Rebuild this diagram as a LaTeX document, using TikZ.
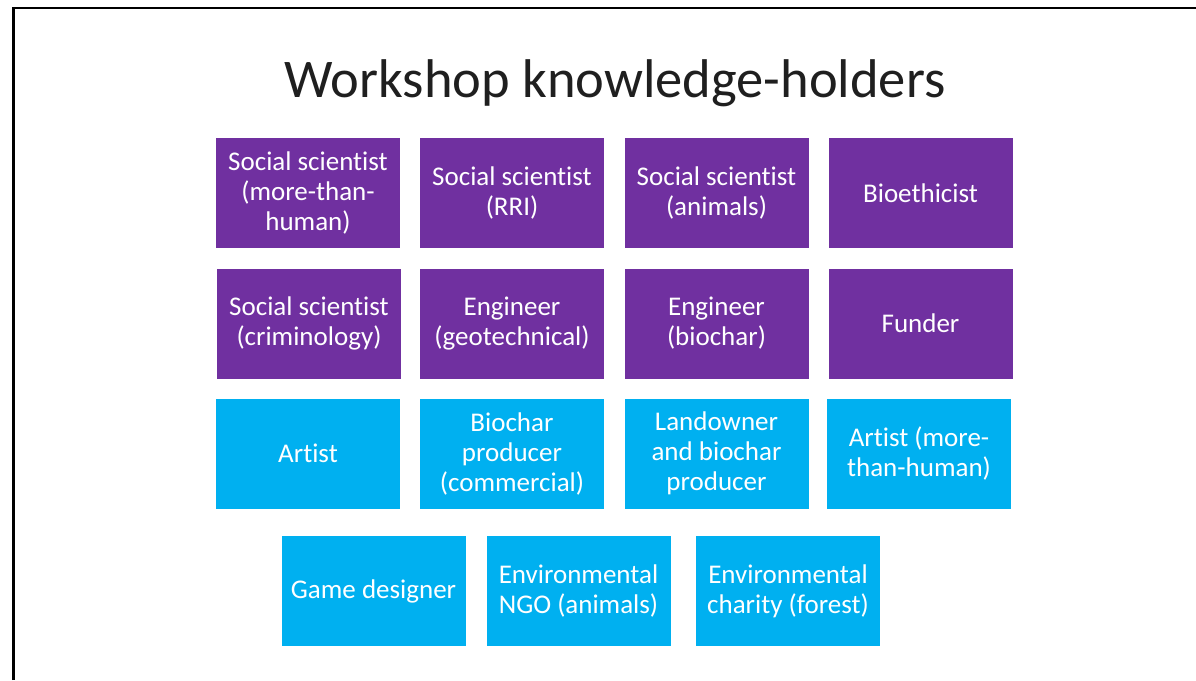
\documentclass[tikz,border=0pt]{standalone}
\usepackage{fontspec}
\setmainfont{Carlito}[Ligatures={NoCommon}]
\definecolor{holderpurple}{HTML}{7030A0}
\definecolor{holderblue}{HTML}{00B0F0}
\tikzset{
  holder/.style={minimum width=184pt, minimum height=110pt, inner sep=0pt,
    align=center, text=white, font=\fontsize{27}{30}\selectfont},
  acad/.style={holder, fill=holderpurple},
  prac/.style={holder, fill=holderblue},
}
\begin{document}
\begin{tikzpicture}[x=1pt,y=1pt]
\useasboundingbox (0,0) rectangle (1196,-680);
\fill[white] (0,0) rectangle (1196,-680);
% frame: left and top edges
\draw[line width=2.5pt] (13.5,-680) -- (13.5,-8) -- (1196,-8);
% title
\node[anchor=base, font=\fontsize{54.5}{60}\selectfont, text=black!88] (title) at (615,-97) {Workshop knowledge-holders};
% row 1
\node[acad] (a1) at (308,-193) {Social scientist\\(more-than-\\human)};
\node[acad] (a2) at (512,-193) {Social scientist\\(RRI)};
\node[acad] (a3) at (716.5,-193) {Social scientist\\(animals)};
\node[acad] (a4) at (920.5,-193) {Bioethicist};
% row 2
\node[acad] (b1) at (309,-323.5) {Social scientist\\(criminology)};
\node[acad] (b2) at (512,-323.5) {Engineer\\(geotechnical)};
\node[acad] (b3) at (716.5,-323.5) {Engineer\\(biochar)};
\node[acad] (b4) at (920.5,-323.5) {Funder};
% row 3
\node[prac] (c1) at (308,-453.5) {Artist};
\node[prac] (c2) at (512,-453.5) {Biochar\\producer\\(commercial)};
\node[prac] (c3) at (716.5,-453.5) {Landowner\\and biochar\\producer};
\node[prac] (c4) at (919,-453.5) {Artist (more-\\than-human)};
% row 4
\node[prac] (d1) at (373.5,-591) {Game designer};
\node[prac] (d2) at (578.5,-591) {Environmental\\NGO (animals)};
\node[prac] (d3) at (788,-591) {Environmental\\charity (forest)};
\end{tikzpicture}
\end{document}
